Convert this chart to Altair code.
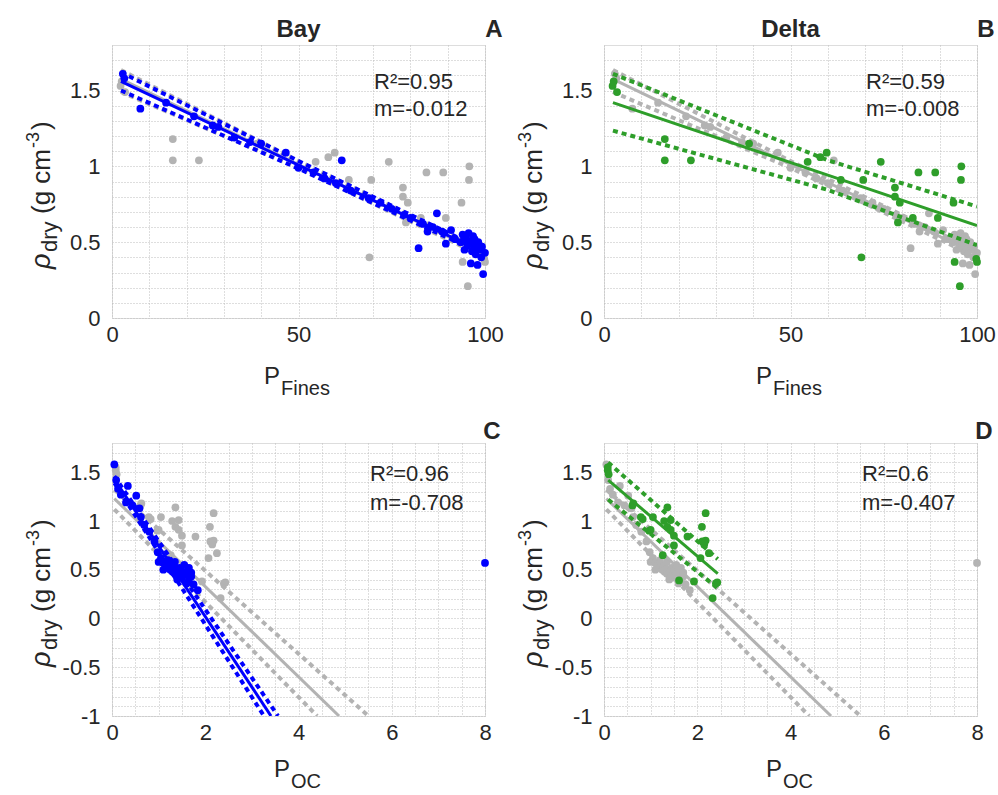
import altair as alt
import pandas as pd

FONT = "Liberation Sans"
BLUE = "#0000ff"
GREEN = "#2e9e2a"
GRAY = "#b3b3b3"
TXT = "#262626"

# ---------------- data ----------------
bay_fines_x = [2.9, 3.3, 7.6, 14.5, 22, 27, 28.5, 32.8, 37, 40, 46.6, 50, 54, 57, 60, 61.6, 64, 68.8, 72, 75,
               78.3, 80, 82.2, 83.4, 84.6, 86, 87.1, 88.5, 89.5, 90.9, 92, 93.5, 94, 94.5, 95, 95.3, 95.6, 96,
               96.2, 96.5, 96.8, 97, 97.2, 97.5, 97.8, 98, 98.2, 98.5, 99, 99.2, 99.5, 100]
bay_fines_y = [1.61, 1.58, 1.38, 1.42, 1.33, 1.27, 1.26, 1.19, 1.16, 1.15, 1.09, 0.99, 0.96, 0.92, 0.89, 1.04, 0.84,
               0.79, 0.76, 0.72, 0.68, 0.66, 0.46, 0.62, 0.57, 0.60, 0.69, 0.57, 0.49, 0.58, 0.52, 0.50, 0.55, 0.45,
               0.52, 0.48, 0.56, 0.50, 0.36, 0.44, 0.54, 0.48, 0.52, 0.42, 0.47, 0.35, 0.50, 0.45, 0.40, 0.47, 0.29,
               0.43]

delta_fines_x = [2.3, 2.6, 3.5, 16.3, 16.3, 23.3, 38.9, 54.6, 58, 59.7, 63.5, 69.5, 69, 74.2, 78, 78, 79.3, 78.8,
                 82.8, 84.3, 88.8, 89.5, 93.7, 94, 95.4, 95.7, 95.8, 99.8, 100]
delta_fines_y = [1.53, 1.56, 1.49, 1.18, 1.04, 1.04, 1.15, 1.03, 1.06, 1.09, 0.91, 0.91, 0.40, 1.03, 0.86, 0.80, 0.76,
                 0.63, 0.66, 0.96, 0.96, 0.66, 0.76, 0.37, 0.21, 0.91, 1.00, 0.39, 0.37]

bay_oc_x = [0.05, 0.09, 0.34, 0.13, 0.19, 0.52, 0.30, 0.44, 0.59, 0.62, 0.69, 0.80, 0.91, 0.98, 1.05, 1.0, 1.1, 1.15,
            1.2, 1.25, 1.3, 1.35, 1.4, 1.45, 1.5, 1.55, 1.6, 1.45, 1.1, 1.6, 1.65, 1.5, 1.7, 1.75, 1.4, 1.55, 1.65,
            1.3, 1.84, 1.7, 1.2, 1.35, 8.0]
bay_oc_y = [1.58, 1.42, 1.36, 1.33, 1.27, 1.26, 1.19, 1.16, 1.13, 1.04, 0.96, 0.89, 0.79, 0.68, 0.62, 0.58, 0.57, 0.55,
            0.52, 0.50, 0.48, 0.46, 0.49, 0.52, 0.48, 0.55, 0.36, 0.44, 0.50, 0.48, 0.52, 0.42, 0.47, 0.35, 0.40, 0.45,
            0.40, 0.55, 0.29, 0.43, 0.60, 0.58, 0.57]

delta_oc_x = [0.08, 0.08, 0.10, 0.61, 0.63, 0.79, 0.83, 1.05, 1.36, 1.43, 1.29, 2.18, 2.10, 1.36, 0.97, 1.00, 1.43,
              1.79, 1.50, 2.11, 2.18, 2.15, 1.50, 2.25, 2.07, 1.26, 1.61, 1.93, 2.43, 2.40, 2.33]
delta_oc_y = [1.55, 1.52, 1.48, 1.16, 1.18, 1.04, 1.02, 1.04, 1.14, 1.01, 1.00, 1.08, 0.94, 0.94, 0.90, 0.91, 0.91,
              0.84, 0.85, 0.79, 0.80, 0.76, 0.75, 0.67, 0.62, 0.65, 0.39, 0.38, 0.37, 0.36, 0.21]

# fit lines
fines_fit_x = [2.4, 50, 100]
bay_fines_fit = [1.56, 1.008, 0.43]
bay_fines_hi = [1.62, 1.035, 0.445]
bay_fines_lo = [1.50, 0.985, 0.415]
all_fines_fit = [1.575, 1.012, 0.42]
all_fines_hi = [1.635, 1.035, 0.44]
all_fines_lo = [1.49, 0.99, 0.40]
delta_fit_x = [2.4, 60, 100]
delta_fines_fit = [1.42, 0.942, 0.61]
delta_fines_hi = [1.61, 1.04, 0.735]
delta_fines_lo = [1.235, 0.845, 0.48]

bay_oc_fit_x, bay_oc_fit = [0.05, 3.41], [1.43, -1.0]
bay_oc_hi_x, bay_oc_hi = [0.05, 3.56], [1.46, -1.0]
bay_oc_lo_x, bay_oc_lo = [0.05, 3.26], [1.39, -1.0]
all_oc_fit_x, all_oc_fit = [0.05, 4.87], [1.23, -1.0]
all_oc_hi_x, all_oc_hi = [0.05, 5.5], [1.32, -1.0]
all_oc_lo_x, all_oc_lo = [0.05, 4.4], [1.12, -1.0]
delta_oc_x2 = [0.09, 2.44]
delta_oc_fit = [1.42, 0.46]
delta_oc_hi = [1.60, 0.61]
delta_oc_lo = [1.22, 0.31]

stats = {"A": ("R²=0.95", "m=-0.012"), "B": ("R²=0.59", "m=-0.008"),
         "C": ("R²=0.96", "m=-0.708"), "D": ("R²=0.6", "m=-0.407")}

fines_grid = [0, 10, 20, 30, 40, 50, 60, 70, 80, 90, 100]
oc_grid = [0, 0.5, 1, 1.5, 2, 2.5, 3, 3.5, 4, 4.5, 5, 5.5, 6, 6.5, 7, 7.5, 8]
rho_grid_top = [0, 0.1, 0.2, 0.3, 0.4, 0.5, 0.6, 0.7, 0.8, 0.9, 1, 1.1, 1.2, 1.3, 1.4, 1.5, 1.6, 1.7]
rho_grid_bot = [-1, -0.9, -0.8, -0.7, -0.6, -0.5, -0.4, -0.3, -0.2, -0.1, 0, 0.1, 0.2, 0.3, 0.4, 0.5, 0.6,
                0.7, 0.8, 0.9, 1, 1.1, 1.2, 1.3, 1.4, 1.5, 1.6, 1.7]

W, H = 373, 273


def pts(xs, ys):
    return pd.DataFrame({"x": xs, "y": ys})


def lines(specs):
    rows = []
    for k, xs, ys in specs:
        for a, b in zip(xs, ys):
            rows.append({"x": a, "y": b, "k": k})
    return pd.DataFrame(rows)


def txt(s, x, y, size=22, bold=False, align="left", angle=0, color=TXT, italic=False):
    return alt.Chart(pd.DataFrame({"t": [s]})).mark_text(
        font=FONT, fontSize=size, fontWeight="bold" if bold else "normal", align=align,
        fontStyle="italic" if italic else "normal",
        baseline="alphabetic", angle=angle, color=color
    ).encode(x=alt.value(x), y=alt.value(y), text="t:N")


def panel(kind, letter, title, gray_pts, col_pts, gray_lines, col_lines, color):
    if kind == "fines":
        xdom, xvals = [0, 100], fines_grid
        xexpr = "datum.value % 50 == 0 ? '' + datum.value : ''"
        ydom, yvals = [0, 1.8], rho_grid_top
        sub = "Fines"
    else:
        xdom, xvals = [0, 8], oc_grid
        xexpr = "datum.value % 2 == 0 ? '' + datum.value : ''"
        ydom, yvals = [-1, 1.8], rho_grid_bot
        sub = "OC"
    yexpr = "datum.value % 0.5 == 0 ? '' + datum.value : ''"
    common = dict(grid=True, gridDash=[1, 2], gridColor="#bdbdbd", gridWidth=1, ticks=False, domain=False,
                  labelFont=FONT, labelFontSize=22, labelColor=TXT, labelOverlap=False, title=None)
    X = alt.X("x:Q", scale=alt.Scale(domain=xdom, nice=False, zero=False),
              axis=alt.Axis(values=xvals, labelExpr=xexpr, labelPadding=6, labelFlush=False, **common))
    Y = alt.Y("y:Q", scale=alt.Scale(domain=ydom, nice=False, zero=False),
              axis=alt.Axis(values=yvals, labelExpr=yexpr, labelPadding=12, **common))

    layers = []
    layers.append(alt.Chart(gray_pts).mark_circle(size=60, opacity=1, color=GRAY).encode(x=X, y=Y))
    gl = lines(gray_lines)
    layers.append(alt.Chart(gl[gl.k == "fit"]).mark_line(color=GRAY, strokeWidth=3, clip=True)
                  .encode(x=X, y=Y, detail="k:N"))
    layers.append(alt.Chart(gl[gl.k != "fit"]).mark_line(color=GRAY, strokeWidth=4, strokeDash=[5, 4], clip=True)
                  .encode(x=X, y=Y, detail="k:N"))
    layers.append(alt.Chart(col_pts).mark_circle(size=60, opacity=1, color=color).encode(x=X, y=Y))
    cl = lines(col_lines)
    layers.append(alt.Chart(cl[cl.k == "fit"]).mark_line(color=color, strokeWidth=3, clip=True)
                  .encode(x=X, y=Y, detail="k:N"))
    layers.append(alt.Chart(cl[cl.k != "fit"]).mark_line(color=color, strokeWidth=4, strokeDash=[5, 4], clip=True)
                  .encode(x=X, y=Y, detail="k:N"))

    r2, m = stats[letter]
    if kind == "fines":
        layers += [txt(r2, 262, 44), txt(m, 262, 71)]
        layers.append(txt(letter, 382, -8, size=24, bold=True, align="center"))
    else:
        layers += [txt(r2, 258, 38), txt(m, 258, 67)]
        layers.append(txt(letter, 380, -4, size=24, bold=True, align="center"))
    if title:
        layers.append(txt(title, W / 2, -8, size=24, bold=True, align="center"))
    # x-axis title  P_sub
    if kind == "fines":
        layers += [txt("P", 152, 339, size=24), txt(sub, 169, 350, size=20)]
    else:
        layers += [txt("P", 162, 334, size=24), txt(sub, 179, 345, size=20)]
    # y-axis title  rho_dry (g cm^-3), rotated
    xb = -62
    layers += [
        txt("ρ", xb, 224, size=27, angle=270, italic=True),
        txt("dry", xb + 7, 207, size=22, angle=270),
        txt("(g cm", xb, 169, size=26, angle=270),
        txt("-3", xb - 11, 103, size=18, angle=270),
        txt(")", xb, 85, size=26, angle=270),
    ]
    return alt.layer(*layers).properties(width=W, height=H)


A = panel("fines", "A", "Bay", pts(delta_fines_x, delta_fines_y), pts(bay_fines_x, bay_fines_y),
          [("fit", fines_fit_x, all_fines_fit), ("hi", fines_fit_x, all_fines_hi), ("lo", fines_fit_x, all_fines_lo)],
          [("fit", fines_fit_x, bay_fines_fit), ("hi", fines_fit_x, bay_fines_hi), ("lo", fines_fit_x, bay_fines_lo)],
          BLUE)
B = panel("fines", "B", "Delta", pts(bay_fines_x, bay_fines_y), pts(delta_fines_x, delta_fines_y),
          [("fit", fines_fit_x, all_fines_fit), ("hi", fines_fit_x, all_fines_hi), ("lo", fines_fit_x, all_fines_lo)],
          [("fit", delta_fit_x, delta_fines_fit), ("hi", delta_fit_x, delta_fines_hi),
           ("lo", delta_fit_x, delta_fines_lo)],
          GREEN)
C = panel("oc", "C", None, pts(delta_oc_x, delta_oc_y), pts(bay_oc_x, bay_oc_y),
          [("fit", all_oc_fit_x, all_oc_fit), ("hi", all_oc_hi_x, all_oc_hi), ("lo", all_oc_lo_x, all_oc_lo)],
          [("fit", bay_oc_fit_x, bay_oc_fit), ("hi", bay_oc_hi_x, bay_oc_hi), ("lo", bay_oc_lo_x, bay_oc_lo)],
          BLUE)
D = panel("oc", "D", None, pts(bay_oc_x, bay_oc_y), pts(delta_oc_x, delta_oc_y),
          [("fit", all_oc_fit_x, all_oc_fit), ("hi", all_oc_hi_x, all_oc_hi), ("lo", all_oc_lo_x, all_oc_lo)],
          [("fit", delta_oc_x2, delta_oc_fit), ("hi", delta_oc_x2, delta_oc_hi), ("lo", delta_oc_x2, delta_oc_lo)],
          GREEN)

chart = alt.concat(A, B, C, D, columns=2, spacing={"row": 125, "column": 119}, bounds="flush").properties(
    padding={"left": 24, "top": 17, "right": 0, "bottom": 0},
    background="white",
).configure_view(stroke="#808080", strokeWidth=1.2).configure(font=FONT)

chart.save("out.html", embed_options={"renderer": "svg", "actions": False})
